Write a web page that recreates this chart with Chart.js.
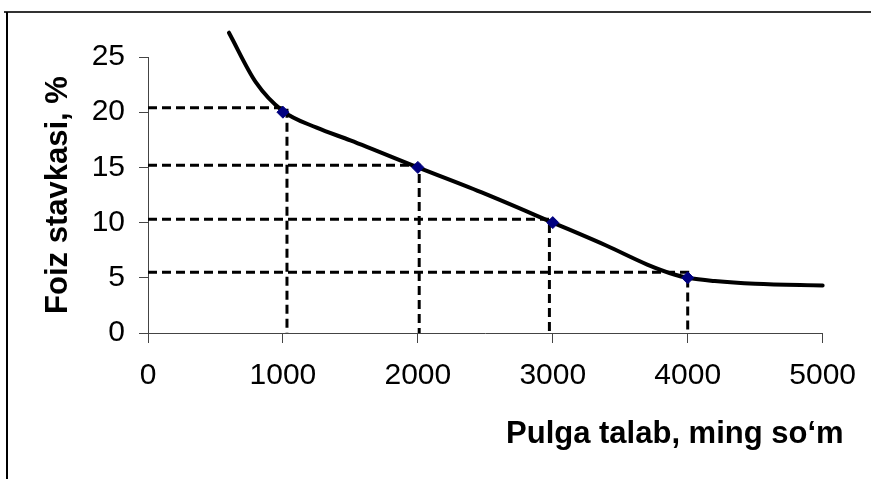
<!DOCTYPE html>
<html>
<head>
<meta charset="utf-8">
<script src="https://cdn.jsdelivr.net/npm/chart.js@4.4.1/dist/chart.umd.min.js"></script>
<style>
  html, body { margin: 0; padding: 0; background: #fff; }
  canvas { display: block; }
</style>
</head>
<body>
<canvas id="demandChart" width="871" height="479"></canvas>
<script>
// egri chiziq (smooth curve)
var curveX = [600, 800, 1000, 1250, 1500, 2000, 2500, 3000, 3400, 3700, 3900, 4000, 4200, 4500, 5000];
var curveY = [27.2, 22.7, 20.1, 18.6, 17.45, 15, 12.6, 10, 7.9, 6.2, 5.3, 5.0, 4.7, 4.45, 4.3];

// marked points
var pointX = [1000, 2000, 3000, 4000];
var pointY = [20, 15, 10, 5];

// dashed guide lines (where the dashes actually sit)
var guideX = [1030, 2010, 2975, 4000];
var guideY = [20.4, 15.2, 10.3, 5.5];

var xTickLabels = [0, 1000, 2000, 3000, 4000, 5000];
var yTickLabels = [0, 5, 10, 15, 20, 25];

var xTitle = 'Pulga talab, ming so\u2018m';
var yTitle = 'Foiz stavkasi, %';

var FONT = '"Liberation Sans", Arial, sans-serif';

function toXY(xs, ys) {
  return xs.map(function (x, i) { return { x: x, y: ys[i] }; });
}

var datasets = [];

datasets.push({
  label: 'points',
  data: toXY(pointX, pointY),
  showLine: false,
  pointStyle: 'rectRot',
  pointRadius: 6,
  pointBackgroundColor: '#000080',
  pointBorderColor: '#000080',
  order: 0
});

datasets.push({
  label: 'curve',
  data: toXY(curveX, curveY),
  borderColor: '#000',
  borderWidth: 4,
  borderCapStyle: 'round',
  pointRadius: 0,
  cubicInterpolationMode: 'monotone',
  clip: false,
  order: 1
});

guideX.forEach(function (gx, i) {
  datasets.push({
    label: 'guide' + i,
    data: [{ x: 0, y: guideY[i] }, { x: gx, y: guideY[i] }, { x: gx, y: 0 }],
    borderColor: '#000',
    borderWidth: 3,
    borderDash: [9, 5],
    pointRadius: 0,
    tension: 0,
    order: 2
  });
});

// frame + axis titles
var decorPlugin = {
  id: 'decor',
  beforeDraw: function (chart) {
    var ctx = chart.ctx;
    ctx.save();
    ctx.strokeStyle = '#333';
    ctx.lineWidth = 2;
    ctx.beginPath();
    ctx.moveTo(4, 12);
    ctx.lineTo(871, 12);
    ctx.stroke();
    ctx.strokeStyle = '#000';
    ctx.beginPath();
    ctx.moveTo(7, 12);
    ctx.lineTo(7, 479);
    ctx.stroke();
    ctx.restore();
  },
  afterDraw: function (chart) {
    var ctx = chart.ctx;
    var area = chart.chartArea;
    ctx.save();
    ctx.fillStyle = '#000';
    ctx.font = 'bold 31px ' + FONT;
    ctx.textAlign = 'right';
    ctx.textBaseline = 'alphabetic';
    ctx.fillText(xTitle, area.right + 21, 443);

    ctx.translate(58, (area.top + area.bottom) / 2);
    ctx.rotate(-Math.PI / 2);
    ctx.textAlign = 'center';
    ctx.textBaseline = 'middle';
    ctx.fillText(yTitle, 0, 0);
    ctx.restore();
  }
};

new Chart(document.getElementById('demandChart'), {
  type: 'line',
  data: { datasets: datasets },
  plugins: [decorPlugin],
  options: {
    responsive: false,
    animation: false,
    layout: { padding: { left: 0, top: 57, right: 44, bottom: 0 } },
    plugins: {
      legend: { display: false },
      tooltip: { enabled: false }
    },
    scales: {
      x: {
        type: 'linear',
        min: 0,
        max: 5000,
        afterFit: function (s) { s.height = 146; },
        afterBuildTicks: function (s) {
          s.ticks = xTickLabels.map(function (v) { return { value: v }; });
        },
        ticks: {
          color: '#000',
          font: { family: FONT, size: 30 },
          padding: 15,
          maxRotation: 0,
          callback: function (v) { return String(v); }
        },
        grid: { drawOnChartArea: false, tickLength: 10, color: '#444' },
        border: { color: '#444', width: 1 }
      },
      y: {
        type: 'linear',
        min: 0,
        max: 25,
        afterFit: function (s) { s.width = 148; },
        afterBuildTicks: function (s) {
          s.ticks = yTickLabels.map(function (v) { return { value: v }; });
        },
        ticks: {
          color: '#000',
          font: { family: FONT, size: 30 },
          padding: 14,
          callback: function (v) { return String(v); }
        },
        grid: { drawOnChartArea: false, tickLength: 9, color: '#444' },
        border: { color: '#444', width: 1 }
      }
    }
  }
});
</script>
</body>
</html>
